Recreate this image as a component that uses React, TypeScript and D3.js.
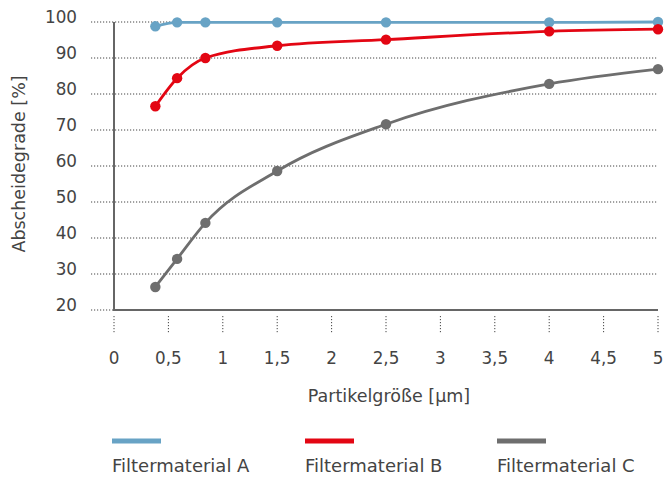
import React from "react";
import * as d3 from "d3";

const xValues = [0.38, 0.58, 0.84, 1.5, 2.5, 4, 5];
const seriesA = [98.8, 99.9, 99.9, 99.9, 99.9, 99.9, 100];
const seriesB = [76.6, 84.4, 90.0, 93.4, 95.1, 97.4, 98.0];
const seriesC = [26.4, 34.2, 44.2, 58.6, 71.6, 82.8, 86.9];
const seriesNames = ["Filtermaterial A", "Filtermaterial B", "Filtermaterial C"];
const seriesColors = ["#68a3c5", "#e30613", "#6e6e6e"];
const xTicks = [0, 0.5, 1, 1.5, 2, 2.5, 3, 3.5, 4, 4.5, 5];
const yTicks = [20, 30, 40, 50, 60, 70, 80, 90, 100];

const W = 665;
const H = 477;
const font = "'DejaVu Sans', sans-serif";
const textColor = "#444";

export default function App() {
  const x = d3.scaleLinear().domain([0, 5]).range([114, 658]);
  const y = d3.scaleLinear().domain([20, 100]).range([310, 22]);
  const line = d3
    .line<[number, number]>()
    .x((d) => x(d[0]))
    .y((d) => y(d[1]))
    .curve(d3.curveMonotoneX);
  const all = [seriesA, seriesB, seriesC];
  const fmt = (v: number) => String(v).replace(".", ",");
  const legendX = [112, 305, 497];

  return (
    <svg width={W} height={H} style={{ position: "absolute", left: 0, top: 0 }}>
      <rect width={W} height={H} fill="#fff" />
      {yTicks.map((t) => (
        <g key={t}>
          <line x1={91} x2={658} y1={y(t)} y2={y(t)} stroke="#444" strokeWidth={1} strokeDasharray="1.2,1.8" />
          <text x={77} y={y(t) + 0.5} textAnchor="end" fontFamily={font} fontSize={16.8} fill={textColor}>
            {t}
          </text>
        </g>
      ))}
      {xTicks.map((t) => (
        <g key={t}>
          <line x1={x(t)} x2={x(t)} y1={316} y2={334} stroke="#444" strokeWidth={1} strokeDasharray="1.2,1.8" />
          <text x={x(t)} y={364} textAnchor="middle" fontFamily={font} fontSize={16.8} fill={textColor}>
            {fmt(t)}
          </text>
        </g>
      ))}
      <line x1={114} x2={114} y1={y(100)} y2={y(20)} stroke="#666" strokeWidth={2} />
      <line x1={113} x2={658} y1={y(20)} y2={y(20)} stroke="#666" strokeWidth={2} />
      {all.map((s, i) => {
        const pts = xValues.map((xv, j) => [xv, s[j]] as [number, number]);
        return (
          <g key={i}>
            <path d={line(pts) || ""} fill="none" stroke={seriesColors[i]} strokeWidth={2.8} />
            {pts.map((p, j) => (
              <circle key={j} cx={x(p[0])} cy={y(p[1])} r={5.2} fill={seriesColors[i]} />
            ))}
          </g>
        );
      })}
      <text
        transform={`translate(25,${164}) rotate(-90)`}
        textAnchor="middle"
        fontFamily={font}
        fontSize={17.5}
        fill={textColor}
      >
        Abscheidegrade [%]
      </text>
      <text x={389} y={402} textAnchor="middle" fontFamily={font} fontSize={17.5} fill={textColor}>
        Partikelgröße [µm]
      </text>
      {seriesNames.map((n, i) => (
        <g key={n}>
          <line x1={legendX[i]} x2={legendX[i] + 49} y1={441} y2={441} stroke={seriesColors[i]} strokeWidth={5} />
          <text x={legendX[i]} y={472} fontFamily={font} fontSize={18} fill={textColor}>
            {n}
          </text>
        </g>
      ))}
    </svg>
  );
}
